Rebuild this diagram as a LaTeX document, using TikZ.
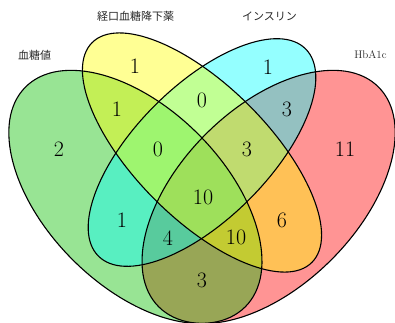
\documentclass[tikz,border=0pt]{standalone}
\usepackage{fontspec}
\newfontfamily\jpfont{Noto Sans CJK JP}
\definecolor{vgreen}{RGB}{10,190,0}
\definecolor{vyellow}{RGB}{255,255,0}
\definecolor{vcyan}{RGB}{0,255,255}
\definecolor{vred}{RGB}{255,0,0}
\tikzset{
  setfill/.style={fill=#1, fill opacity=0.42},
  setline/.style={draw=black, line width=1.1pt},
  count/.style={font=\fontsize{22}{24}\selectfont, inner sep=0pt},
  catname/.style={font=\fontsize{11}{13}\selectfont, inner sep=0pt, text=black!85},
}
\begin{document}
\begin{tikzpicture}[x=1pt,y=1pt]
\useasboundingbox (0,0) rectangle (395,-322);
\clip (0,0) rectangle (395,-322);
\coordinate (R) at (268.6,-196.9);
\coordinate (G) at (135.4,-196.9);
\coordinate (C) at (202,-152.5);
\coordinate (Y) at (202,-152.5);
% fills
\path[setfill=vred, rotate around={45:(R)}] (R) ellipse [x radius=155.4pt, y radius=88.8pt];
\path[setfill=vgreen, rotate around={135:(G)}] (G) ellipse [x radius=155.4pt, y radius=88.8pt];
\path[setfill=vcyan, rotate around={45:(C)}] (C) ellipse [x radius=146.5pt, y radius=66.6pt];
\path[setfill=vyellow, rotate around={135:(Y)}] (Y) ellipse [x radius=155.4pt, y radius=66.6pt];
% outlines
\draw[setline, rotate around={45:(R)}] (R) ellipse [x radius=155.4pt, y radius=88.8pt];
\draw[setline, rotate around={135:(G)}] (G) ellipse [x radius=155.4pt, y radius=88.8pt];
\draw[setline, rotate around={45:(C)}] (C) ellipse [x radius=146.5pt, y radius=66.6pt];
\draw[setline, rotate around={135:(Y)}] (Y) ellipse [x radius=155.4pt, y radius=66.6pt];
% counts
\node[count] (nG) at (59,-149) {2};
\node[count] (nY) at (135,-66) {1};
\node[count] (nC) at (268,-67) {1};
\node[count] (nR) at (345,-149) {11};
\node[count] (nGY) at (117,-109) {1};
\node[count] (nYC) at (202,-100) {0};
\node[count] (nCR) at (287,-109) {3};
\node[count] (nGYC) at (158,-149) {0};
\node[count] (nYCR) at (247,-149) {3};
\node[count] (nAll) at (203,-197) {10};
\node[count] (nGC) at (122,-220) {1};
\node[count] (nYR) at (282,-220) {6};
\node[count] (nGCR) at (168,-238) {4};
\node[count] (nGYR) at (236,-237) {10};
\node[count] (nGR) at (202,-280) {3};
% category names
\node[catname] (tY) at (135.5,-16) {\jpfont 経口血糖降下薬};
\node[catname] (tC) at (269.5,-16) {\jpfont インスリン};
\node[catname] (tG) at (34.5,-55) {\jpfont 血糖値};
\node[catname] (tR) at (370.5,-55) {HbA1c};
\end{tikzpicture}
\end{document}
